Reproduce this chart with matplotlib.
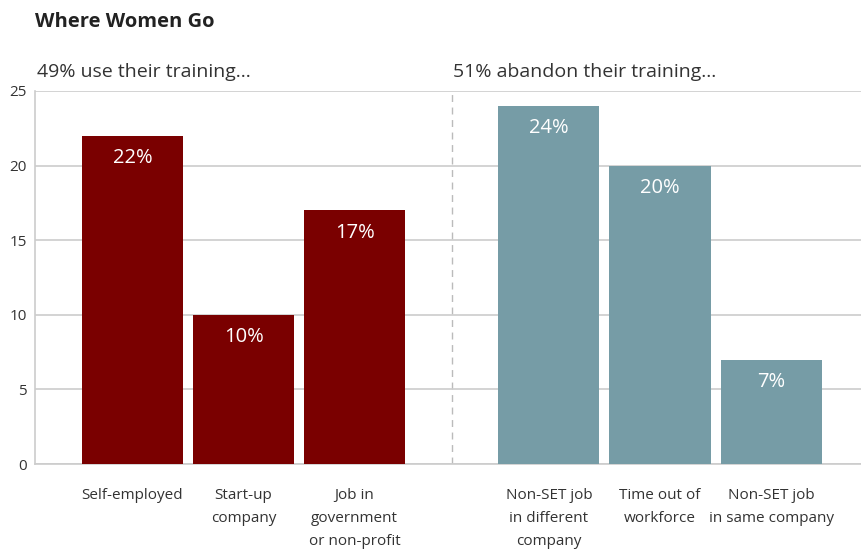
import matplotlib
matplotlib.use("Agg")
import matplotlib.pyplot as plt

categories = ["Self-employed", "Start-up\ncompany", "Job in\ngovernment\nor non-profit",
              "Non-SET job\nin different\ncompany", "Time out of\nworkforce", "Non-SET job\nin same company"]
values = [22, 10, 17, 24, 20, 7]
groups = ["use", "use", "use", "abandon", "abandon", "abandon"]
yticks = [0, 5, 10, 15, 20, 25]

plt.rcParams['font.family'] = ['Open Sans', 'DejaVu Sans']

fig = plt.figure(figsize=(8.61, 5.54), dpi=100)
W, H = 861, 554
ax_left, ax_right, ax_top, ax_bot = 35, 861, 91, 464
ax = fig.add_axes([ax_left / W, 1 - ax_bot / H, (ax_right - ax_left) / W, (ax_bot - ax_top) / H])

positions = [0, 1, 2, 3.75, 4.75, 5.75]
colors = {"use": "#7a0000", "abandon": "#769ca6"}
ax.bar(positions, values, width=0.91, color=[colors[g] for g in groups], zorder=3)

for p, v in zip(positions, values):
    ax.text(p, v - 1.5, f"{v}%", ha="center", va="center", color="white", fontsize=14.5, zorder=4)

ax.set_xlim(-0.878, 6.56)
ax.set_ylim(0, 25)
ax.set_yticks(yticks)
ax.set_yticklabels([str(t) for t in yticks], fontsize=11, color="#333333")
ax.tick_params(axis="y", length=0, pad=6)
ax.set_xticks([])
ax.yaxis.grid(True, color="#cccccc", linewidth=1.2, zorder=0)
for s in ["top", "right"]:
    ax.spines[s].set_visible(False)
ax.spines["left"].set_color("#cccccc")
ax.spines["bottom"].set_color("#cccccc")
ax.spines["left"].set_linewidth(1.2)
ax.spines["bottom"].set_linewidth(1.2)

ax.axvline(2.88, color="#bbbbbb", linestyle=(0, (5, 4)), linewidth=1, zorder=1)

for p, c in zip(positions, categories):
    ax.text(p, -1.6, c, ha="center", va="top", fontsize=11, color="#333333",
            linespacing=1.75, transform=ax.transData, clip_on=False)

fig.text(35 / W, 1 - 22 / H, "Where Women Go", fontsize=14.5, fontweight="bold",
         color="#222222", va="center", ha="left")
fig.text(37 / W, 1 - 72 / H, "49% use their training...", fontsize=14,
         color="#333333", va="center", ha="left")
fig.text(453 / W, 1 - 72 / H, "51% abandon their training...", fontsize=14,
         color="#333333", va="center", ha="left")

fig.savefig("out.png", dpi=100)
